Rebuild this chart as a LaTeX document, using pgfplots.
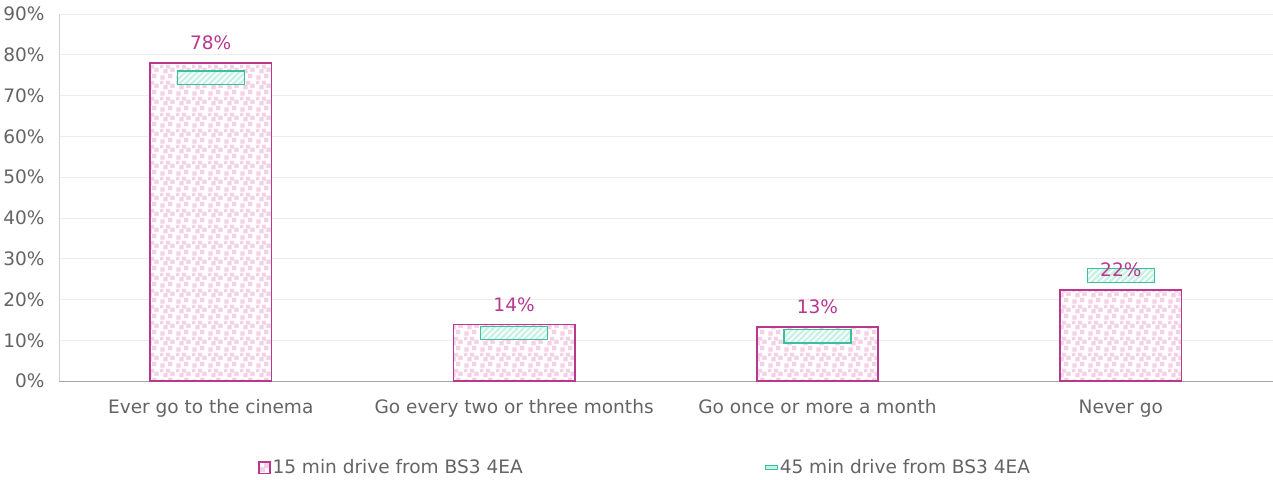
\documentclass[border=0pt]{standalone}
\usepackage{pgfplots}
\pgfplotsset{compat=1.18}
\usepackage{fontspec}
\setmainfont{DejaVu Sans}
\usetikzlibrary{patterns}
\definecolor{mag}{HTML}{B8378F}
\definecolor{pinkdot}{HTML}{F4CFE6}
\definecolor{tealb}{HTML}{3BBF9C}
\definecolor{mint}{HTML}{C4F2E3}
\definecolor{txt}{HTML}{646464}
\definecolor{gridc}{HTML}{EDEDED}
\definecolor{axc}{HTML}{A6A6A6}

\pgfdeclarepatternformonly{pinksq}{\pgfpointorigin}{\pgfpoint{16bp}{16bp}}{\pgfpoint{16bp}{16bp}}{%
  \pgfpathrectangle{\pgfpoint{0.5bp}{0.5bp}}{\pgfpoint{4.5bp}{4.5bp}}%
  \pgfpathrectangle{\pgfpoint{8.5bp}{2bp}}{\pgfpoint{4.5bp}{4.5bp}}%
  \pgfpathrectangle{\pgfpoint{3.5bp}{7bp}}{\pgfpoint{4.5bp}{4.5bp}}%
  \pgfpathrectangle{\pgfpoint{11bp}{8.5bp}}{\pgfpoint{4.5bp}{4.5bp}}%
  \pgfpathrectangle{\pgfpoint{0bp}{12.5bp}}{\pgfpoint{3.5bp}{3.5bp}}%
  \pgfpathrectangle{\pgfpoint{6.5bp}{12bp}}{\pgfpoint{4bp}{4bp}}%
  \pgfusepath{fill}}
\pgfdeclarepatternformonly{mintlines}{\pgfpoint{-1bp}{-1bp}}{\pgfpoint{7bp}{7bp}}{\pgfpoint{6bp}{6bp}}{%
  \pgfsetlinewidth{2.2bp}%
  \pgfpathmoveto{\pgfpoint{-1bp}{-1bp}}\pgfpathlineto{\pgfpoint{7bp}{7bp}}%
  \pgfusepath{stroke}}
\pgfdeclareplotmark{tealbox}{%
  \pgfpathrectangle{\pgfpoint{-33.5bp}{-6.7bp}}{\pgfpoint{67bp}{13.4bp}}%
  \pgfsetfillcolor{white}\pgfusepathqfill
  \pgfpathrectangle{\pgfpoint{-33.5bp}{-6.7bp}}{\pgfpoint{67bp}{13.4bp}}%
  \pgfsetfillpattern{mintlines}{mint}\pgfusepathqfillstroke}

\pgfplotstableread{
x v
0 78.0
1 13.9
2 13.3
3 22.3
}\tfifteen
\pgfplotstableread{
x v
0 74.4
1 11.8
2 11.0
3 25.9
}\tfortyfive

\begin{document}
\begin{tikzpicture}
\begin{axis}[
  /pgf/number format/assume math mode=true,
  width=1213bp, height=367bp, scale only axis,
  xmin=-0.5, xmax=3.5, ymin=0, ymax=90,
  xtick={0,1,2,3},
  xticklabels={Ever go to the cinema, Go every two or three months, Go once or more a month, Never go},
  ytick={0,10,...,90},
  yticklabel={\pgfmathprintnumber{\tick}\%},
  ymajorgrids, grid style={gridc, line width=0.8bp},
  axis x line*=bottom, axis y line*=left,
  x axis line style={axc, line width=1bp, -},
  y axis line style={draw=gridc!60!axc, line width=1bp, -},
  tick style={draw=none},
  tick label style={font=\fontsize{18.6}{22}\selectfont, text=txt},
  yticklabel style={xshift=-11bp},
  xticklabel style={yshift=-15bp},
  clip=false,
  extra description/.code={\path (rel axis cs:0,1) ++(0bp,14bp);},
  legend style={at={(0.483,-0.203)}, anchor=north, legend columns=2, draw=none,
    font=\fontsize{18.6}{22}\selectfont, text=txt,
    /tikz/every even column/.append style={column sep=240bp}},
]
\addplot[ybar, bar width=0.4, bar shift=0pt, draw=mag, line width=1.5bp,
  preaction={fill=white}, pattern=pinksq, pattern color=pinkdot,
  legend image code/.code={\draw[draw=mag, line width=1.2bp, fill=white] (0bp,-5.5bp) rectangle (11bp,5.5bp);
    \fill[pinkdot] (2bp,-3.5bp) rectangle (5bp,-0.5bp); \fill[pinkdot] (6bp,0.5bp) rectangle (9bp,3.5bp);}
] table[x=x, y=v] {\tfifteen};
\addlegendentry{15 min drive from BS3 4EA}
\addplot[only marks, mark=tealbox, mark options={draw=tealb, line width=1.2bp},
  legend image code/.code={\draw[draw=tealb, line width=1bp, fill=mint] (0bp,-2bp) rectangle (12bp,2bp);}
] table[x=x, y=v] {\tfortyfive};
\addlegendentry{45 min drive from BS3 4EA}
\addplot[draw=none, mark=none, forget plot,
  nodes near coords={\pgfmathprintnumber[fixed,precision=0]{\pgfplotspointmeta}\%},
  every node near coord/.append style={text=mag, font=\fontsize{18.6}{22}\selectfont, anchor=south, yshift=9.5bp}
] table[x=x, y=v] {\tfifteen};
\end{axis}
\end{tikzpicture}
\end{document}
